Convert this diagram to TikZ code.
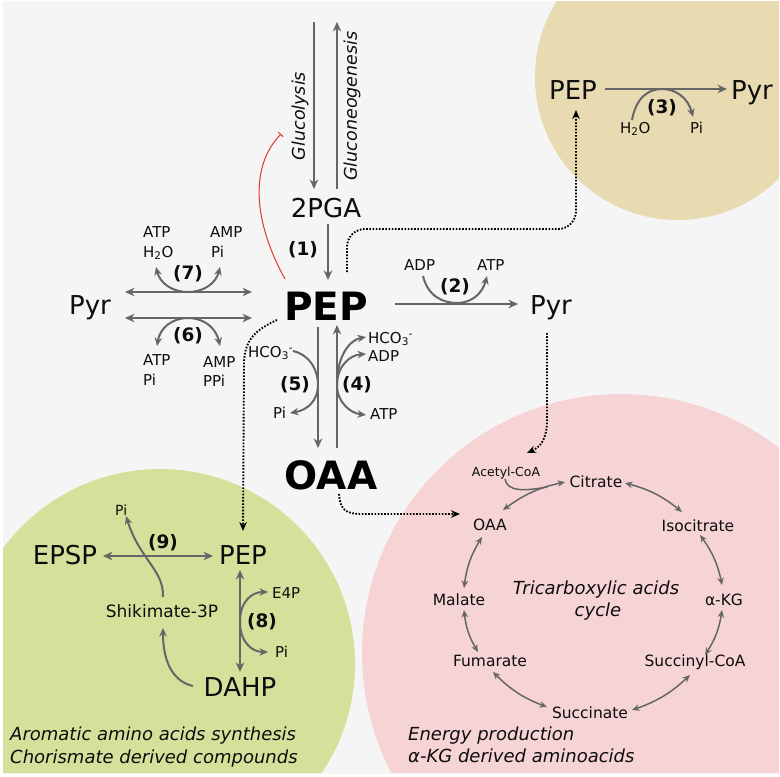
\documentclass[tikz,border=0pt]{standalone}
\usepackage{fontspec}
\setmainfont{DejaVu Sans}
\usetikzlibrary{arrows.meta}
\definecolor{bgc}{HTML}{F5F5F5}
\definecolor{tanc}{HTML}{E8DBB1}
\definecolor{pinkc}{HTML}{F6D4D6}
\definecolor{greenc}{HTML}{D7E09B}
\definecolor{arrc}{HTML}{666666}
\definecolor{inhc}{HTML}{E0382A}
\definecolor{txtc}{HTML}{0D0D0D}
\newcommand\myfs[1]{\fontsize{#1}{#1}\selectfont}
\begin{document}
\begin{tikzpicture}[x=1pt,y=1pt,
  big/.style={inner sep=0pt, anchor=base, text=txtc, font={\myfs{26}}},
  bigb/.style={inner sep=0pt, anchor=base, text=black, font={\myfs{39}\bfseries}},
  lab/.style={inner sep=0pt, anchor=base west, text=txtc, font={\myfs{15}}},
  num/.style={inner sep=0pt, text=txtc, font={\myfs{18.5}\bfseries}},
  tca/.style={inner sep=0pt, anchor=base, text=txtc, font={\myfs{15.5}}},
  note/.style={inner sep=0pt, anchor=base west, text=txtc, font={\myfs{18}\itshape}},
  ga/.style={draw=arrc, line width=2.3pt, >={Stealth[length=9.5pt,width=8.5pt]}},
  gt/.style={draw=arrc, line width=2pt, >={Stealth[length=8.5pt,width=7.5pt]}},
  cyc/.style={draw=arrc, line width=1.5pt, >={Stealth[length=7.5pt,width=6.5pt]}},
  dots/.style={draw=black, line width=1.9pt, dash pattern=on 1.6pt off 1.6pt, >={Stealth[length=9pt,width=7.5pt]}},
]
\useasboundingbox (0,0) rectangle (780,-777);
\fill[white] (0,0) rectangle (780,-777);
\fill[bgc] (3,-1) rectangle (779,-774);
\begin{scope}
  \clip (3,-1) rectangle (779,-772);
  \fill[tanc] (678,-77) circle (143);
  \fill[pinkc] (621,-653) circle (259);
  \fill[greenc] (160,-664) circle (195);
\end{scope}

% ---------- central nodes ----------
\node[big] (pga) at (326,-217) {2PGA};
\node[bigb] (pep) at (326,-320) {PEP};
\node[bigb] (oaa) at (331,-489) {OAA};
\node[big] (pyrL) at (90,-314) {Pyr};
\node[big] (pyrR) at (551,-314) {Pyr};
\node[rotate=90, inner sep=0pt, text=txtc, font={\myfs{17.5}\itshape}] (glyc) at (300,-116) {Glucolysis};
\node[rotate=90, inner sep=0pt, text=txtc, font={\myfs{17.5}\itshape}] (gluc) at (352,-106) {Gluconeogenesis};

% glycolysis / gluconeogenesis
\draw[ga,->] (314,-22) -- (314,-189);
\draw[ga,->] (337,-189) -- (337,-22);
% (1)
\draw[ga,->] (328,-224) -- (328,-280);
\node[num] (n1) at (303,-250) {(1)};
% inhibition
\draw[inhc, line width=1pt, -{Bar[width=7pt]}] (285,-279) .. controls (255,-225) and (248,-168) .. (281,-134);

% (2)
\draw[ga,->] (395,-304) -- (518,-304);
\draw[gt,->] (423,-276) .. controls (428,-297) and (444,-303) .. (457,-303) .. controls (470,-303) and (482,-295) .. (487,-276);
\node[lab] (adp2) at (404,-270) {ADP};
\node[lab] (atp2) at (477,-270) {ATP};
\node[num] (n2) at (455,-287) {(2)};

% (7) and (6)
\draw[ga,<->] (125,-292) -- (252,-292);
\draw[ga,<->] (125,-318) -- (252,-318);
\draw[gt,->] (188,-292) .. controls (172,-292) and (160,-283) .. (156,-267);
\draw[gt,->] (188,-292) .. controls (204,-292) and (216,-283) .. (220,-267);
\draw[gt,->] (188,-318) .. controls (172,-318) and (160,-328) .. (157,-346);
\draw[gt,->] (188,-318) .. controls (204,-318) and (216,-328) .. (220,-346);
\node[lab] (atp7) at (143,-237) {ATP};
\node[lab] (h2o7) at (143,-257) {H\textsubscript{2}O};
\node[lab] (amp7) at (210,-237) {AMP};
\node[lab] (pi7) at (211,-257) {Pi};
\node[num] (n7) at (188,-274) {(7)};
\node[num] (n6) at (188,-336) {(6)};
\node[lab] (atp6) at (143,-365) {ATP};
\node[lab] (pi6) at (143,-385) {Pi};
\node[lab] (amp6) at (203,-367) {AMP};
\node[lab] (ppi6) at (203,-386) {PPi};

% (5) and (4)
\draw[ga,->] (318,-327) -- (318,-448);
\draw[ga,->] (337,-448) -- (337,-325);
\draw[gt,->] (293,-351) .. controls (310,-355) and (318,-370) .. (318,-385) .. controls (318,-400) and (308,-410) .. (290,-413);
\draw[gt,->] (337,-385) .. controls (337,-355) and (350,-340) .. (366,-337);
\draw[gt,->] (337,-385) .. controls (337,-366) and (350,-355) .. (366,-354);
\draw[gt,->] (337,-385) .. controls (337,-402) and (350,-413) .. (366,-415);
\node[lab] (hco5) at (248,-357) {HCO\textsubscript{3}\textsuperscript{-}};
\node[num] (n5) at (295,-385) {(5)};
\node[lab] (pi5) at (273,-418) {Pi};
\node[lab] (hco4) at (368,-343) {HCO\textsubscript{3}\textsuperscript{-}};
\node[lab] (adp4) at (368,-361) {ADP};
\node[num] (n4) at (357,-385) {(4)};
\node[lab] (atp4) at (370,-419) {ATP};

% ---------- tan circle ----------
\node[big] (pepT) at (573,-99) {PEP};
\node[big] (pyrT) at (752,-99) {Pyr};
\draw[ga,->] (605,-89) -- (727,-89);
\draw[gt,->] (632,-120) .. controls (636,-98) and (648,-89) .. (662,-89) .. controls (676,-89) and (688,-98) .. (693,-117);
\node[num] (n3) at (662,-108) {(3)};
\node[lab] (h2o3) at (620,-133) {H\textsubscript{2}O};
\node[lab] (pi3) at (690,-133) {Pi};

% ---------- green circle ----------
\node[big] (epsp) at (65,-564) {EPSP};
\node[big] (pepG) at (243,-564) {PEP};
\node[big] (dahp) at (240,-696) {DAHP};
\node[inner sep=0pt, anchor=base, text=txtc, font={\myfs{17}}] (shik) at (162,-617) {Shikimate-3P};
\draw[ga,<->] (103,-556) -- (213,-556);
\draw[gt,->] (163,-597) .. controls (164,-570) and (140,-560) .. (126,-516);
\node[lab, font={\myfs{14}}] (pi9) at (115,-515) {Pi};
\node[num] (n9) at (163,-543) {(9)};
\draw[ga,<->] (240,-570) -- (240,-672);
\draw[gt,->] (240,-622) .. controls (240,-601) and (252,-592) .. (268,-592);
\draw[gt,->] (240,-622) .. controls (240,-642) and (252,-652) .. (268,-652);
\node[lab] (e4p) at (272,-598) {E4P};
\node[num] (n8) at (262,-622) {(8)};
\node[lab] (pi8) at (275,-657) {Pi};
\draw[gt,->] (193,-686) .. controls (175,-682) and (163,-665) .. (163,-628);
\node[note] (aro) at (10,-740) {Aromatic amino acids synthesis};
\node[note] (cho) at (10,-763) {Chorismate derived compounds};

% ---------- pink circle ----------
\node[inner sep=0pt, anchor=base, text=txtc, font={\myfs{12.5}}] (acoa) at (506,-476) {Acetyl-CoA};
\node[tca] (cit) at (596,-487) {Citrate};
\node[tca] (oaaT) at (490,-530) {OAA};
\node[tca] (iso) at (698,-531) {Isocitrate};
\node[tca] (mal) at (459,-605) {Malate};
\node[tca] (akg) at (724,-605) {α-KG};
\node[tca] (fum) at (490,-666) {Fumarate};
\node[tca] (scoa) at (695,-666) {Succinyl-CoA};
\node[tca] (suc) at (590,-718) {Succinate};
\node[inner sep=0pt, anchor=base, text=txtc, font={\myfs{18}\itshape}] (tca1) at (596,-594) {Tricarboxylic acids};
\node[inner sep=0pt, anchor=base, text=txtc, font={\myfs{18}\itshape}] (tca2) at (598,-616) {cycle};
\draw[cyc,<->] (625,-483) to[bend left=12] (682,-512);
\draw[cyc,<->] (700,-535) to[bend left=12] (722,-585);
\draw[cyc,<->] (722,-610) to[bend left=12] (705,-655);
\draw[cyc,<->] (690,-675) to[bend left=12] (632,-710);
\draw[cyc,<->] (547,-707) to[bend left=12] (493,-672);
\draw[cyc,<->] (478,-652) to[bend left=12] (464,-610);
\draw[cyc,<->] (464,-588) to[bend left=12] (482,-537);
\draw[cyc,<->] (503,-510) to[bend left=12] (565,-482);
\draw[cyc] (505,-479) .. controls (507,-492) and (525,-491) .. (547,-487);
\node[note] (en1) at (408,-740) {Energy production};
\node[note] (en2) at (408,-762) {α-KG derived aminoacids};

% ---------- dotted connectors ----------
\draw[dots,->, rounded corners=18pt] (347,-272) -- (347,-229) -- (576,-229) -- (576,-110);
\draw[dots,->] (277,-320) .. controls (255,-330) and (245,-340) .. (244,-362) -- (243,-531);
\draw[dots,->] (339,-494) .. controls (340,-510) and (346,-514) .. (362,-514) -- (460,-514);
\draw[dots,->] (547,-333) -- (547,-420) .. controls (547,-440) and (540,-447) .. (527,-453);
\end{tikzpicture}
\end{document}
